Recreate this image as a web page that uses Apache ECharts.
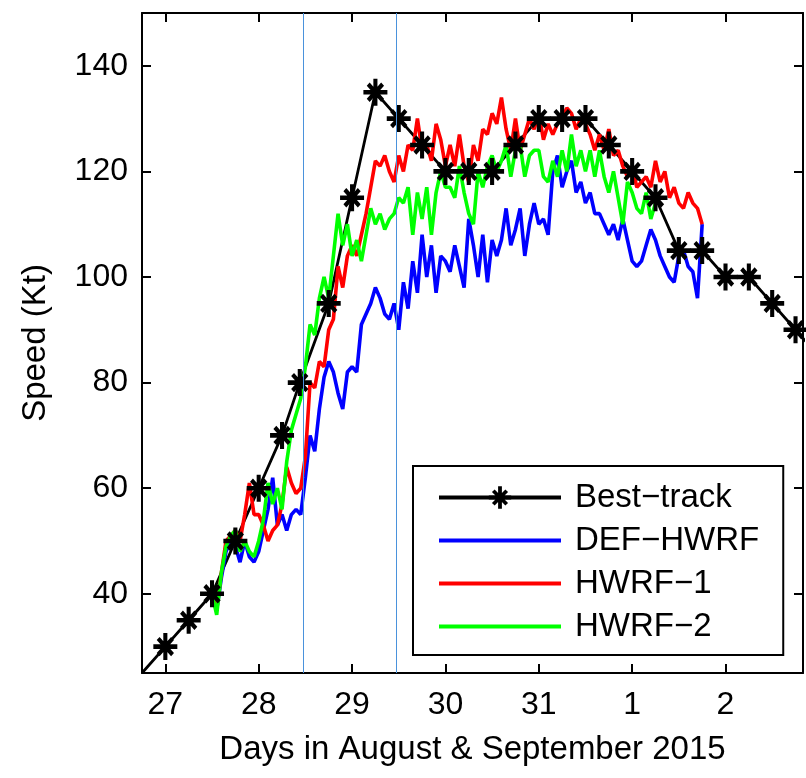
<!DOCTYPE html>
<html>
<head>
<meta charset="utf-8">
<script src="https://cdn.jsdelivr.net/npm/echarts@6/dist/echarts.min.js"></script>
<style>
  html, body { margin: 0; padding: 0; background: #fff; }
  #chart { width: 806px; height: 778px; }
</style>
</head>
<body>
<div id="chart"></div>
<script>
// Axis ticks
const xTickValues = [27, 28, 29, 30, 31, 32, 33];
const xTickLabels = ['27', '28', '29', '30', '31', '1', '2'];
const yTickValues = [40, 60, 80, 100, 120, 140];

// Best-track intensity, 6-hourly (day of August; 32 = 1 September)
const bestTrackTime = [26.75, 27, 27.25, 27.5, 27.75, 28, 28.25, 28.44, 28.75, 29, 29.25, 29.5, 29.75,
  30, 30.25, 30.5, 30.75, 31, 31.25, 31.5, 31.75, 32, 32.25, 32.5, 32.75, 33, 33.25, 33.5, 33.75, 34];
const bestTrackSpeed = [25, 30, 35, 40, 50, 60, 70, 80, 95, 115, 135, 130, 125,
  120, 120, 120, 125, 130, 130, 130, 125, 120, 115, 105, 105, 100, 100, 95, 90, 85];

// Model output times (days)
const modelTime = [
  27.5, 27.55, 27.6, 27.65, 27.7, 27.75, 27.8, 27.85, 27.9, 27.95,
  28, 28.05, 28.1, 28.15, 28.2, 28.25, 28.3, 28.35, 28.4, 28.45,
  28.5, 28.55, 28.6, 28.65, 28.7, 28.75, 28.8, 28.85, 28.9, 28.95,
  29, 29.05, 29.1, 29.15, 29.2, 29.25, 29.3, 29.35, 29.4, 29.45,
  29.5, 29.55, 29.6, 29.65, 29.7, 29.75, 29.8, 29.85, 29.9, 29.95,
  30, 30.05, 30.1, 30.15, 30.2, 30.25, 30.3, 30.35, 30.4, 30.45,
  30.5, 30.55, 30.6, 30.65, 30.7, 30.75, 30.8, 30.85, 30.9, 30.95,
  31, 31.05, 31.1, 31.15, 31.2, 31.25, 31.3, 31.35, 31.4, 31.45,
  31.5, 31.55, 31.6, 31.65, 31.7, 31.75, 31.8, 31.85, 31.9, 31.95,
  32, 32.05, 32.1, 32.15, 32.2, 32.25, 32.3, 32.35, 32.4, 32.45,
  32.5, 32.55, 32.6, 32.65, 32.7, 32.75
];

// Maximum wind speed (kt) per run
const defHwrfSpeed = [
  40, 37, 43, 48, 50, 49, 46, 50, 47, 46,
  48, 52, 56, 62, 53, 55, 52, 55, 56, 55,
  62, 70, 67, 75, 81, 84, 82, 78, 75, 82,
  83, 82, 91, 93, 95, 98, 96, 93, 92, 95,
  90, 99, 94, 103, 97, 108, 100, 106, 97, 104,
  103, 101, 106, 102, 98, 111, 106, 100, 108, 99,
  107, 104, 107, 113, 106, 109, 113, 104, 110, 114,
  110, 111, 108, 120, 123, 117, 120, 122, 116, 118,
  114, 116, 112, 112, 110, 108, 110, 107, 111, 107,
  103, 102, 103, 106, 109, 107, 104, 102, 100, 99,
  104, 105, 102, 101, 96, 110
];
const hwrf1Speed = [
  40, 37, 44, 50, 51, 52, 50, 55, 61, 55,
  55, 53, 50, 52, 53, 57, 64, 61, 59, 60,
  66, 80, 79, 84, 83, 90, 92, 102, 98, 104,
  106, 104, 108, 112, 117, 122, 121, 123, 120, 118,
  123, 120, 125, 124, 130, 124, 125, 122, 129, 126,
  121, 125, 121, 127, 121, 118, 125, 122, 128, 127,
  131, 129, 134, 128, 124, 130, 124, 127, 130, 128,
  131, 126, 129, 127, 129, 130, 132, 131, 128, 130,
  129, 127, 124, 127, 124, 128, 123, 124, 121, 119,
  121, 117, 118, 119, 117, 122, 118, 120, 115, 117,
  114, 113, 116, 114, 113, 110
];
const hwrf2Speed = [
  40, 36, 44, 49, 51, 52, 48, 50, 48, 47,
  50, 54, 61, 57, 60, 56, 65, 71, 74, 77,
  83, 91, 89, 96, 100, 96, 104, 112, 106, 110,
  104, 107, 103, 108, 113, 110, 112, 109, 111, 112,
  115, 114, 117, 108, 116, 111, 117, 108, 116, 120,
  117, 117, 115, 121, 116, 112, 110, 120, 117, 121,
  123, 120, 122, 125, 119, 124, 125, 119, 123, 124,
  124, 119, 118, 122, 119, 124, 120, 127, 121, 124,
  120, 124, 119, 124, 119, 116, 120, 115, 110, 118,
  116, 113, 112, 116, 111, 114
];

// Reference times marked with thin vertical lines
const markerDays = [28.48, 29.47];

const X_MIN = 26.75, X_MAX = 33.83, Y_MIN = 25, Y_MAX = 150;
const FONT = '"Liberation Sans", Arial, Helvetica, sans-serif';

// Eight-armed asterisk marker
const STAR = 'path://M0 8.3L20 8.3L20 11.7L0 11.7Z' +
  'M8.3 0L11.7 0L11.7 20L8.3 20Z' +
  'M5.2 2.8L17.2 14.8L14.8 17.2L2.8 5.2Z' +
  'M14.8 2.8L17.2 5.2L5.2 17.2L2.8 14.8Z';
// Plain thick stroke used as legend key for the model runs
const LINE_KEY = 'path://M0 0L122 0L122 4L0 4Z';

const pairs = (times, values) => values.map((v, i) => [times[i], v]);

const bestTrackData = bestTrackTime.map((t, i) => {
  const item = { value: [t, bestTrackSpeed[i]] };
  if (t <= X_MIN || t >= X_MAX) item.symbol = 'none';
  return item;
});

const axisLine = { show: true, onZero: false, lineStyle: { color: '#000', width: 2 } };
const tickStyle = { color: '#000', width: 2 };

const chart = echarts.init(document.getElementById('chart'), null, { renderer: 'canvas' });

const modelSeries = (name, values, color) => ({
  name, type: 'line', data: pairs(modelTime, values),
  symbol: 'none', showSymbol: false,
  itemStyle: { color },
  lineStyle: { color, width: 3.6 },
  emphasis: { disabled: true }
});

chart.setOption({
  animation: false,
  backgroundColor: '#fff',
  grid: { left: 142, right: 3, top: 13, bottom: 105 },
  xAxis: [
    {
      type: 'value', min: X_MIN, max: X_MAX, position: 'bottom',
      axisLine: axisLine,
      axisTick: { inside: true, length: 9, lineStyle: tickStyle, customValues: xTickValues },
      axisLabel: {
        customValues: xTickValues,
        formatter: v => xTickLabels[xTickValues.indexOf(v)],
        color: '#000', fontSize: 32, fontFamily: FONT, margin: 16
      },
      splitLine: { show: false },
      name: 'Days in August & September 2015',
      nameLocation: 'middle', nameGap: 60,
      nameTextStyle: { color: '#000', fontSize: 33, fontFamily: FONT }
    },
    {
      type: 'value', min: X_MIN, max: X_MAX, position: 'top',
      axisLine: axisLine,
      axisTick: { inside: true, length: 9, lineStyle: tickStyle, customValues: xTickValues },
      axisLabel: { show: false },
      splitLine: { show: false }
    }
  ],
  yAxis: [
    {
      type: 'value', min: Y_MIN, max: Y_MAX, position: 'left',
      axisLine: axisLine,
      axisTick: { inside: true, length: 9, lineStyle: tickStyle, customValues: yTickValues },
      axisLabel: {
        customValues: yTickValues,
        color: '#000', fontSize: 32, fontFamily: FONT, margin: 14
      },
      splitLine: { show: false },
      name: 'Speed (Kt)',
      nameLocation: 'middle', nameGap: 90,
      nameTextStyle: { color: '#000', fontSize: 33, fontFamily: FONT }
    },
    {
      type: 'value', min: Y_MIN, max: Y_MAX, position: 'right',
      axisLine: axisLine,
      axisTick: { inside: true, length: 9, lineStyle: tickStyle, customValues: yTickValues },
      axisLabel: { show: false },
      splitLine: { show: false }
    }
  ],
  legend: {
    data: [
      { name: 'Best−track', lineStyle: { width: 4 } },
      { name: 'DEF−HWRF', icon: LINE_KEY },
      { name: 'HWRF−1', icon: LINE_KEY },
      { name: 'HWRF−2', icon: LINE_KEY }
    ],
    orient: 'vertical',
    left: 413, top: 466,
    itemWidth: 122, itemHeight: 28, itemGap: 10,
    padding: [15, 24, 12, 24],
    borderColor: '#000', borderWidth: 2, borderRadius: 0,
    backgroundColor: '#fff',
    selectedMode: false,
    textStyle: { color: '#000', fontSize: 33, lineHeight: 33, fontFamily: FONT, padding: [0, 0, 0, 9] }
  },
  series: [
    {
      name: 'markers', type: 'line', data: [], z: 1, silent: true,
      markLine: {
        silent: true, symbol: ['none', 'none'], label: { show: false },
        lineStyle: { color: '#4a92dc', width: 1, type: 'solid' },
        emphasis: { disabled: true },
        data: markerDays.map(d => ({ xAxis: d }))
      }
    },
    {
      name: 'Best−track', type: 'line', data: bestTrackData,
      symbol: STAR, symbolSize: [24, 27], showSymbol: true, showAllSymbol: true,
      itemStyle: { color: '#000', borderWidth: 0 },
      lineStyle: { color: '#000', width: 2.8 },
      emphasis: { disabled: true }
    },
    modelSeries('DEF−HWRF', defHwrfSpeed, '#0000ff'),
    modelSeries('HWRF−1', hwrf1Speed, '#ff0000'),
    modelSeries('HWRF−2', hwrf2Speed, '#00ff00')
  ]
});
</script>
</body>
</html>
